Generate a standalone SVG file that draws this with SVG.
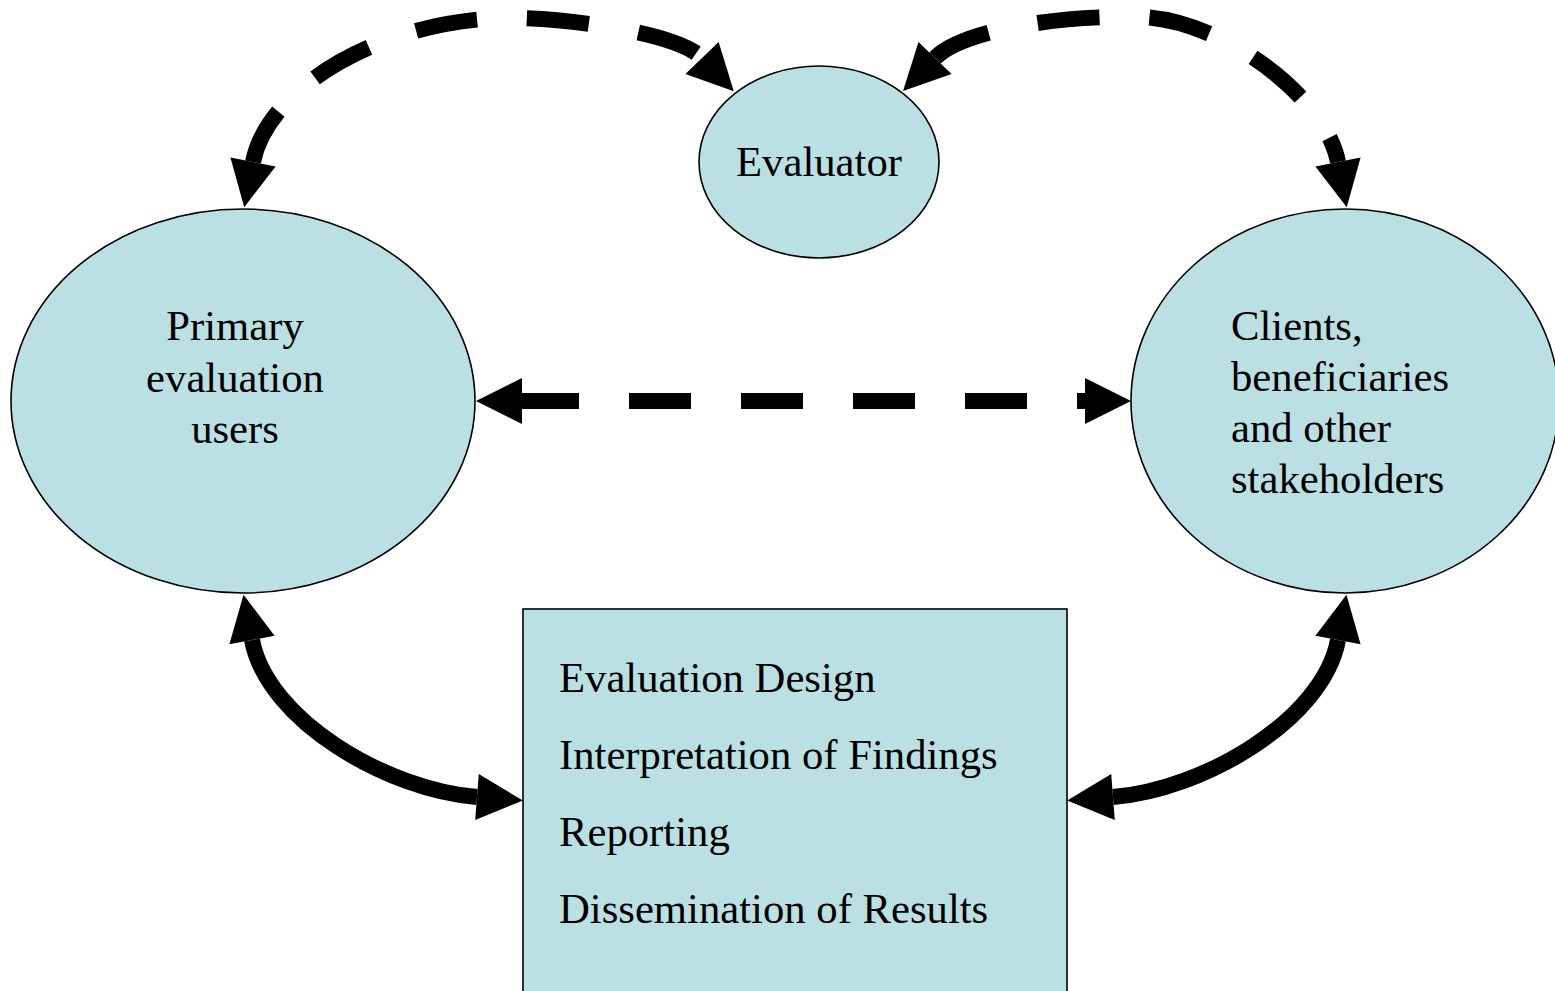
<svg xmlns="http://www.w3.org/2000/svg" width="1555" height="991" viewBox="0 0 1555 991">
  <style>
    .node { fill: #BBE0E3; stroke: #000; stroke-width: 1.6; }
    .label { font-family: "Liberation Serif", "Times New Roman", serif; font-size: 42.7px; fill: #000; }
    .mid { text-anchor: middle; }
    .link { fill: none; stroke: #000; stroke-width: 16; stroke-linecap: butt; }
    .dashed { stroke-dasharray: 62 50; }
  </style>
  <defs>
    <!-- filled triangular head; path ends at the head's base, the tip extends 46px beyond -->
    <marker id="head" markerUnits="userSpaceOnUse" markerWidth="50" markerHeight="50"
            refX="0" refY="23" orient="auto-start-reverse" overflow="visible">
      <path d="M0,0 L46,23 L0,46 Z" fill="#000"/>
    </marker>
  </defs>

  <rect width="1555" height="991" fill="#fff"/>

  <!-- nodes -->
  <g id="node-evaluator">
    <ellipse class="node" cx="819" cy="162" rx="120" ry="96"/>
    <text class="label mid" x="819" y="176">Evaluator</text>
  </g>

  <g id="node-primary-users">
    <ellipse class="node" cx="243" cy="401" rx="232" ry="192"/>
    <text class="label mid" x="235" y="340">Primary</text>
    <text class="label mid" x="235" y="392">evaluation</text>
    <text class="label mid" x="235" y="443">users</text>
  </g>

  <g id="node-stakeholders">
    <ellipse class="node" cx="1345" cy="401" rx="214" ry="192"/>
    <text class="label" x="1231" y="340">Clients,</text>
    <text class="label" x="1231" y="391">beneficiaries</text>
    <text class="label" x="1231" y="442">and other</text>
    <text class="label" x="1231" y="493">stakeholders</text>
  </g>

  <g id="node-activities">
    <rect class="node" x="523" y="609" width="544" height="420"/>
    <text class="label" x="559" y="692">Evaluation Design</text>
    <text class="label" x="559" y="769">Interpretation of Findings</text>
    <text class="label" x="559" y="846">Reporting</text>
    <text class="label" x="559" y="923">Dissemination of Results</text>
  </g>

  <!-- connectors -->
  <g id="connectors">
    <!-- Primary users <-> Evaluator -->
    <path class="link dashed" stroke-dashoffset="5"
          d="M253,162 C268,85 390,15 520,18 C585,20 680,35 702,58"
          marker-start="url(#head)" marker-end="url(#head)"/>
    <!-- Evaluator <-> Stakeholders -->
    <path class="link dashed" stroke-dashoffset="2"
          d="M935,58 C962,30 1060,15 1140,17 C1220,19 1325,95 1338,162"
          marker-start="url(#head)" marker-end="url(#head)"/>
    <!-- Primary users <-> Stakeholders -->
    <path class="link dashed" stroke-dashoffset="5"
          d="M522,401 L1085,401"
          marker-start="url(#head)" marker-end="url(#head)"/>
    <!-- Primary users <-> activities -->
    <path class="link"
          d="M252,640 C267,720 387,790 477,797"
          marker-start="url(#head)" marker-end="url(#head)"/>
    <!-- Stakeholders <-> activities -->
    <path class="link"
          d="M1338,640 C1323,720 1203,790 1113,797"
          marker-start="url(#head)" marker-end="url(#head)"/>
  </g>
</svg>
